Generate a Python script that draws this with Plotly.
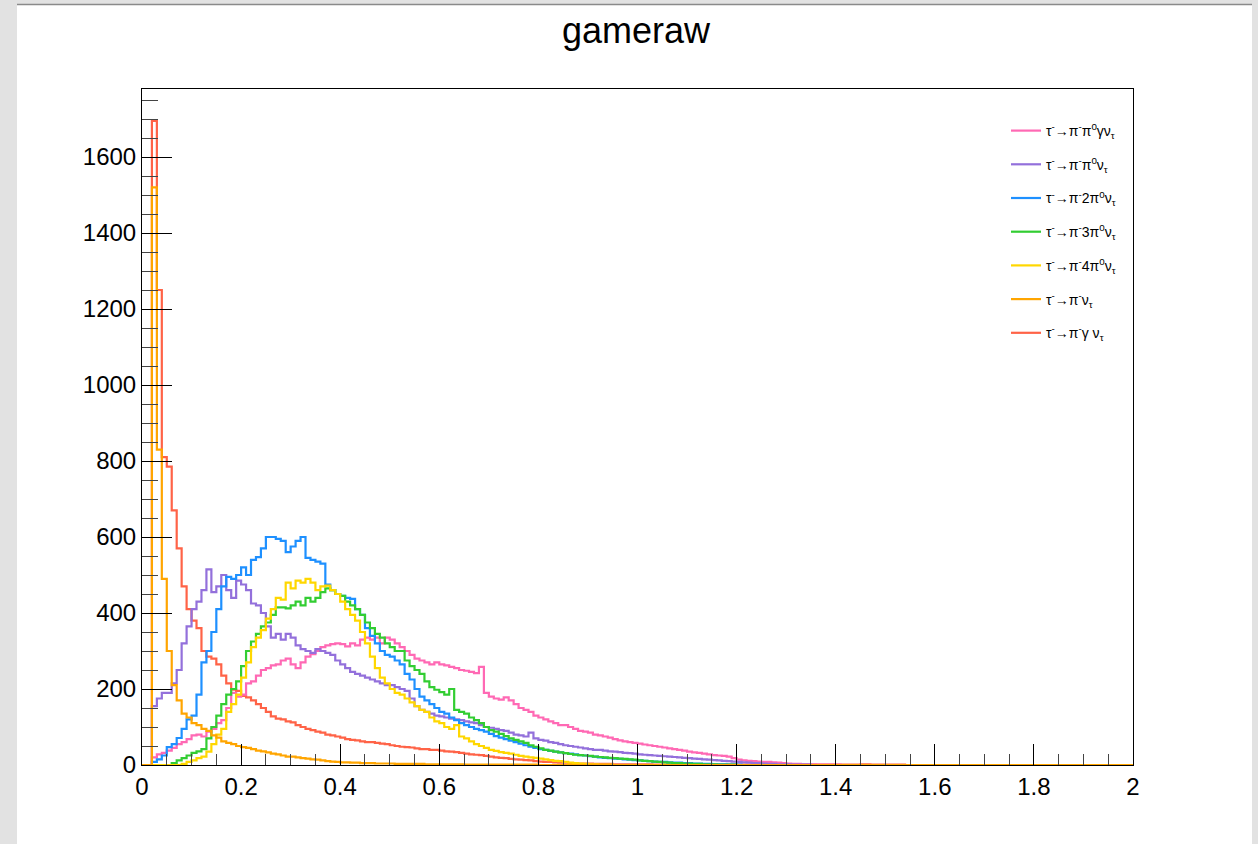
import numpy as np
import plotly.graph_objects as go

# Histogram: 200 bins of width 0.01 from 0 to 2
N_BINS = 200
X_MIN, X_MAX = 0.0, 2.0

labels = [
    "τ<sup>-</sup>→π<sup>-</sup>π<sup>0</sup>γν<sub>τ</sub>",
    "τ<sup>-</sup>→π<sup>-</sup>π<sup>0</sup>ν<sub>τ</sub>",
    "τ<sup>-</sup>→π<sup>-</sup>2π<sup>0</sup>ν<sub>τ</sub>",
    "τ<sup>-</sup>→π<sup>-</sup>3π<sup>0</sup>ν<sub>τ</sub>",
    "τ<sup>-</sup>→π<sup>-</sup>4π<sup>0</sup>ν<sub>τ</sub>",
    "τ<sup>-</sup>→π<sup>-</sup>ν<sub>τ</sub>",
    "τ<sup>-</sup>→π<sup>-</sup>γ ν<sub>τ</sub>",
]
colors = ["#ff69b4", "#9370db", "#1e90ff", "#32cd32", "#ffd700", "#ffa500", "#ff6347"]

pipi0g = [0, 0, 20, 28, 32, 38, 45, 55, 60, 68,
          78, 80, 75, 88, 95, 110, 118, 150, 190, 180,
          185, 215, 220, 235, 250, 255, 262, 265, 275, 280,
          265, 255, 270, 285, 292, 300, 310, 315, 318, 320,
          318, 312, 320, 315, 330, 335, 330, 335, 320, 335,
          330, 320, 310, 300, 290, 280, 275, 270, 265, 270,
          265, 262, 258, 255, 250, 248, 245, 242, 258, 190,
          180, 175, 172, 178, 170, 160, 150, 145, 140, 130,
          125, 120, 115, 110, 105, 105, 100, 95, 90, 88,
          85, 80, 78, 75, 72, 68, 65, 62, 60, 58,
          56, 54, 52, 50, 48, 46, 44, 42, 40, 38,
          35, 33, 32, 30, 28, 26, 25, 24, 22, 18,
          14, 12, 11, 10, 9, 8, 8, 7, 6, 5,
          4, 3, 3, 2, 2, 2, 1, 1, 1, 1, 1]

pipi0 = [0, 0, 155, 175, 190, 190, 215, 250, 320, 365,
         410, 430, 460, 515, 455, 470, 500, 460, 440, 485,
         475, 460, 425, 420, 400, 365, 335, 345, 330, 345,
         335, 315, 305, 300, 295, 305, 300, 295, 290, 275,
         265, 255, 245, 240, 235, 230, 225, 220, 215, 210,
         210, 205, 200, 195, 175, 155, 145, 140, 135, 130,
         128, 125, 122, 120, 118, 115, 112, 110, 105, 100,
         98, 95, 92, 90, 85, 80, 78, 75, 85, 70,
         66, 64, 60, 58, 55, 52, 50, 48, 46, 44,
         42, 40, 40, 38, 36, 35, 34, 32, 31, 30,
         28, 27, 26, 25, 24, 23, 22, 21, 20, 19,
         18, 17, 16, 15, 14, 13, 12, 11, 10, 9,
         8, 7, 6, 5, 5, 4, 3, 3, 2, 2,
         2, 1, 1, 1, 1]

pi2pi0 = [0, 0, 8, 15, 25, 47, 55, 71, 95, 120,
          130, 185, 270, 300, 350, 410, 470, 495, 490, 500,
          520, 500, 540, 547, 570, 600, 600, 595, 590, 560,
          575, 590, 600, 545, 540, 535, 530, 475, 460, 450,
          445, 440, 437, 410, 395, 360, 340, 320, 300, 290,
          285, 275, 265, 240, 225, 200, 180, 170, 160, 150,
          140, 135, 125, 118, 110, 105, 100, 95, 92, 88,
          82, 76, 72, 68, 64, 60, 56, 52, 48, 45,
          42, 40, 37, 35, 33, 31, 30, 28, 26, 25,
          23, 22, 20, 19, 18, 17, 16, 15, 14, 13,
          12, 11, 10, 9, 8, 8, 7, 6, 6, 5,
          5, 4, 4, 3, 3, 2, 2, 2, 1, 1, 1]

pi3pi0 = [0, 0, 0, 0, 0, 0, 5, 12, 18, 25,
          32, 36, 42, 70, 100, 130, 160, 185, 200, 220,
          260, 300, 325, 345, 365, 375, 395, 415, 415, 412,
          420, 430, 420, 440, 430, 440, 455, 465, 460, 450,
          445, 430, 420, 410, 395, 375, 360, 345, 335, 320,
          310, 300, 300, 275, 260, 250, 240, 220, 205, 198,
          192, 185, 200, 145, 140, 135, 125, 118, 110, 100,
          92, 88, 82, 76, 70, 66, 62, 58, 52, 48,
          44, 40, 38, 35, 33, 31, 29, 27, 26, 25,
          24, 22, 21, 20, 19, 18, 17, 16, 15, 14,
          12, 11, 10, 9, 8, 7, 6, 5, 5, 4,
          4, 3, 3, 2, 2, 2, 1, 1, 1, 1]

pi4pi0 = [0, 0, 0, 0, 0, 0, 0, 0, 3, 8,
          12, 18, 22, 35, 55, 80, 95, 140, 160, 185,
          230, 270, 310, 335, 355, 385, 410, 440, 435, 480,
          465, 485, 480, 490, 480, 460, 470, 472, 460, 450,
          430, 410, 395, 380, 350, 320, 285, 255, 230, 215,
          200, 190, 185, 175, 165, 155, 145, 140, 125, 115,
          110, 100, 95, 105, 75, 70, 62, 55, 50, 45,
          40, 37, 34, 32, 30, 27, 24, 22, 20, 19,
          17, 15, 13, 11, 10, 8, 6, 5, 4, 3,
          2, 2, 1, 1, 1]

pinu = [0, 0, 1520, 830, 490, 300, 210, 170, 135, 125,
        110, 105, 95, 90, 78, 72, 62, 58, 55, 50,
        47, 45, 42, 38, 36, 33, 30, 28, 25, 22,
        22, 20, 18, 17, 15, 14, 12, 10, 9, 8,
        7, 7, 6, 6, 5, 5, 5, 4, 4, 4,
        4, 3, 3, 3, 3, 3, 3, 2, 2, 2,
        2, 2, 2, 2, 2, 1, 1, 1, 1, 1,
        1, 1, 1, 1, 1, 1, 1, 1, 1, 1]

pignu = [0, 0, 1695, 1250, 810, 785, 670, 570, 470, 410,
         380, 360, 300, 285, 280, 265, 235, 215, 198, 195,
         182, 178, 170, 160, 150, 140, 128, 122, 120, 115,
         112, 105, 100, 95, 92, 88, 85, 80, 78, 75,
         72, 68, 66, 65, 62, 60, 60, 58, 56, 55,
         52, 50, 48, 47, 46, 44, 42, 42, 40, 40,
         38, 36, 35, 34, 32, 30, 28, 27, 26, 24,
         22, 20, 19, 18, 16, 15, 14, 13, 12, 10,
         9, 8, 8, 7, 6, 6, 5, 5, 4, 4,
         4, 3, 3, 3, 3, 2, 2, 2, 2, 2,
         2, 2, 2, 1, 1, 1, 1, 1, 1, 1,
         1, 1, 1, 1, 1, 1, 1, 1, 1, 1,
         1, 1, 1, 1, 1, 1, 1, 1, 1, 1,
         1, 1, 1, 1, 1, 1, 1, 1, 1, 1,
         1, 1, 1, 1, 1, 2, 2, 1, 1, 1, 1, 1, 1, 1]

series = [pipi0g, pipi0, pi2pi0, pi3pi0, pi4pi0, pinu, pignu]

edges = np.linspace(X_MIN, X_MAX, N_BINS + 1)

fig = go.Figure()
draw_order = [6, 0, 1, 2, 3, 4, 5]
for k in draw_order:
    vals = list(series[k]) + [0] * (N_BINS - len(series[k]))
    yv = vals + [vals[-1]]
    fig.add_trace(go.Scatter(
        x=edges, y=yv, mode="lines", line_shape="hv",
        line=dict(color=colors[k], width=2.2),
        name=labels[k], legendrank=k + 1, legendgroup=str(k),
        hoverinfo="skip",
    ))

W, H = 1258, 844
L, R, T, B = 142, 1133, 89, 765
pw, ph = R - L, B - T

def px_x(p):
    return (p - L) / pw

def px_y(p):
    return (B - p) / ph

fig.update_layout(
    width=W, height=H,
    margin=dict(l=L, r=W - R, t=T, b=H - B, pad=0),
    paper_bgcolor="#e2e2e2",
    plot_bgcolor="white",
    font=dict(family="Liberation Sans, Arial, sans-serif", color="black"),
    title=dict(text="gameraw", x=636 / W, xref="container", xanchor="center",
               y=1 - 30 / H, yref="container", yanchor="middle",
               font=dict(size=36, family="Liberation Sans, Arial, sans-serif")),
    showlegend=True,
    legend=dict(x=px_x(1006), y=px_y(115), xanchor="left", yanchor="top",
                bgcolor="rgba(0,0,0,0)", borderwidth=0, tracegroupgap=12.5,
                font=dict(size=14), itemwidth=30),
    shapes=[
        dict(type="rect", xref="paper", yref="paper",
             x0=px_x(17), x1=px_x(1252), y0=px_y(850), y1=px_y(5),
             fillcolor="white", line=dict(width=0), layer="below"),
        dict(type="line", xref="paper", yref="paper",
             x0=px_x(17), x1=px_x(1252), y0=px_y(4.5), y1=px_y(4.5),
             line=dict(color="#8a8a8a", width=1.5), layer="below"),
    ],
)

fig.update_xaxes(
    range=[X_MIN, X_MAX], tickmode="linear", tick0=0, dtick=0.2,
    ticks="inside", ticklen=21, tickwidth=1, tickcolor="black",
    minor=dict(dtick=0.05, ticks="inside", ticklen=11, tickcolor="#444", showgrid=False),
    showline=True, linecolor="black", linewidth=1, mirror=True,
    showgrid=False, zeroline=False,
    tickfont=dict(size=24), tickformat="~g",
)
fig.update_yaxes(
    range=[0, 1779], tickmode="linear", tick0=0, dtick=200,
    ticks="inside", ticklen=30, tickwidth=1, tickcolor="black",
    minor=dict(dtick=50, ticks="inside", ticklen=16, tickcolor="#444", showgrid=False),
    showline=True, linecolor="black", linewidth=1, mirror=True,
    showgrid=False, zeroline=False,
    tickfont=dict(size=24),
)

fig.write_html("out.html")
